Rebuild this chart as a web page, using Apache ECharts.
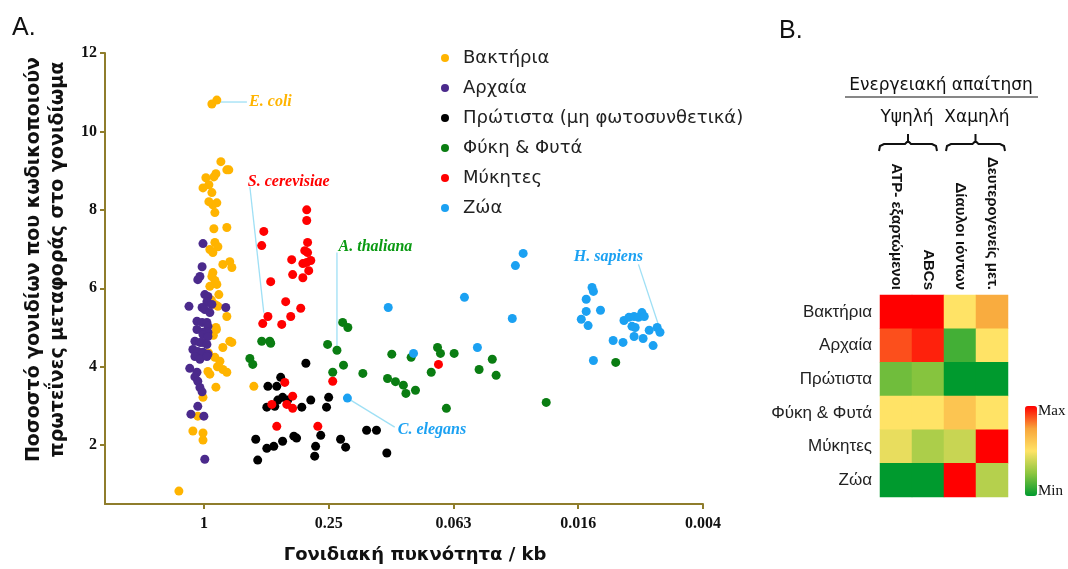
<!DOCTYPE html>
<html>
<head>
<meta charset="utf-8">
<script src="https://cdn.jsdelivr.net/npm/echarts@6/dist/echarts.min.js"></script>
<style>
  html, body { margin: 0; padding: 0; background: #fff; }
  #chart { width: 1068px; height: 569px; }
</style>
</head>
<body>
<div id="chart"></div>
<script>
// A. γονιδιακή πυκνότητα (γονίδια / kb) και % γονιδίων μεταφορέων
const groupNames = ['Βακτήρια', 'Αρχαία', 'Πρώτιστα (μη φωτοσυνθετικά)', 'Φύκη & Φυτά', 'Μύκητες', 'Ζώα'];
const groupColors = ['#ffb400', '#4b2a8c', '#000000', '#0a7d12', '#ff0000', '#1ba1f2'];

const bacteria = [
  [0.915, 10.70], [0.866, 10.80],
  [0.828, 9.23], [0.875, 8.92], [0.895, 8.84], [0.775, 9.02], [0.758, 9.02], [0.978, 8.82],
  [0.946, 8.64], [1.01, 8.56], [0.915, 8.44], [0.946, 8.21], [0.866, 8.18], [0.905, 8.13],
  [0.885, 7.93], [0.895, 7.52], [0.775, 7.55], [0.885, 7.17], [0.856, 7.06], [0.936, 6.99],
  [0.905, 6.91], [0.810, 6.61], [0.75, 6.68], [0.733, 6.53], [0.905, 6.40], [0.915, 6.30],
  [0.936, 6.05], [0.866, 6.10], [0.847, 5.84], [0.885, 5.59], [0.856, 5.54], [0.775, 5.28],
  [0.875, 5.00], [0.75, 4.65], [0.733, 4.62], [0.810, 4.49], [0.885, 4.24], [0.837, 4.14],
  [0.956, 3.88], [0.936, 3.81], [0.810, 3.93], [0.775, 3.86], [0.875, 3.48], [1.01, 3.22],
  [1.07, 2.74], [1.13, 2.36], [1.01, 2.31], [1.01, 2.13], [1.32, 0.83], [0.574, 3.50],
  [0.885, 6.2], [0.92, 5.7], [0.90, 4.8], [0.87, 4.95], [0.95, 4.35], [0.86, 4.0]
];
const archaea = [
  [1.01, 7.14], [1.02, 6.55], [1.045, 6.30], [1.07, 6.22], [0.99, 5.84], [0.956, 5.79],
  [0.967, 5.66], [0.915, 5.59], [1.18, 5.54], [1.02, 5.51], [0.784, 5.51], [0.99, 5.46],
  [0.936, 5.38], [1.08, 5.16], [1.02, 5.13], [0.967, 5.13], [0.956, 5.03], [1.08, 4.95],
  [1.01, 4.88], [0.956, 4.88], [1.01, 4.82], [0.956, 4.77], [1.105, 4.65], [1.045, 4.62],
  [1.02, 4.62], [0.967, 4.57], [1.13, 4.44], [1.07, 4.39], [1.01, 4.37], [0.956, 4.32],
  [1.105, 4.26], [1.045, 4.19], [0.967, 4.26], [1.17, 3.96], [1.08, 3.86], [1.105, 3.74],
  [1.07, 3.63], [1.045, 3.47], [1.02, 3.36], [1.07, 2.99], [1.155, 2.79], [1.0, 2.74],
  [0.99, 1.64]
];
const protists = [
  [0.322, 4.09], [0.426, 3.73], [0.491, 3.50], [0.445, 3.50], [0.417, 3.22], [0.44, 3.15],
  [0.394, 3.15], [0.497, 2.97], [0.455, 2.99], [0.337, 2.97], [0.305, 3.15], [0.256, 2.97],
  [0.25, 3.22], [0.562, 2.15], [0.497, 1.92], [0.46, 1.97], [0.417, 2.10], [0.368, 2.23],
  [0.357, 2.18], [0.289, 1.97], [0.273, 2.25], [0.219, 2.15], [0.207, 1.95], [0.55, 1.62],
  [0.292, 1.72], [0.164, 2.38], [0.147, 2.38], [0.131, 1.80]
];
const plants = [
  [0.214, 5.13], [0.202, 5.00], [0.526, 4.65], [0.481, 4.65], [0.476, 4.60], [0.253, 4.57],
  [0.228, 4.42], [0.600, 4.21], [0.581, 4.06], [0.212, 4.04], [0.239, 3.86], [0.171, 3.83],
  [0.124, 4.32], [0.100, 4.24], [0.130, 3.70], [0.119, 3.62], [0.109, 3.53], [0.106, 3.32],
  [0.0953, 3.40], [0.080, 3.86], [0.0746, 4.49], [0.0722, 4.34], [0.0620, 4.34], [0.0676, 2.94],
  [0.0470, 3.93], [0.0406, 4.19], [0.0389, 3.78], [0.0223, 3.09], [0.0103, 4.11]
];
const fungi = [
  [0.319, 8.0], [0.319, 7.73], [0.514, 7.45], [0.526, 7.09], [0.316, 7.17], [0.326, 6.96],
  [0.316, 6.91], [0.305, 6.71], [0.333, 6.63], [0.319, 6.66], [0.377, 6.73], [0.373, 6.35],
  [0.333, 6.27], [0.312, 6.45], [0.476, 6.17], [0.403, 5.66], [0.341, 5.49], [0.491, 5.28],
  [0.52, 5.10], [0.381, 5.28], [0.421, 5.08], [0.239, 3.63], [0.407, 3.60], [0.47, 3.04],
  [0.398, 3.04], [0.373, 3.25], [0.373, 2.94], [0.445, 2.48], [0.282, 2.48], [0.0738, 4.06]
];
const animals = [
  [0.203, 3.20], [0.129, 5.51], [0.0974, 4.34], [0.0553, 5.77], [0.0479, 4.49], [0.0325, 5.23],
  [0.0314, 6.58], [0.0288, 6.89], [0.0143, 5.72], [0.0134, 6.02], [0.0132, 5.92], [0.0143, 5.41],
  [0.0151, 5.21], [0.0140, 5.05], [0.0122, 5.44], [0.0132, 4.16], [0.0094, 5.18], [0.0089, 5.26],
  [0.0084, 5.28], [0.0080, 5.26], [0.0077, 5.38], [0.0075, 5.28], [0.0086, 5.03], [0.0083, 5.00],
  [0.0084, 4.77], [0.0106, 4.67], [0.0095, 4.62], [0.0076, 4.72], [0.0071, 4.93], [0.0068, 4.54],
  [0.0065, 5.00], [0.0063, 4.88]
];
const groupData = [bacteria, archaea, protists, plants, fungi, animals];

const xTickValues = [1, 0.25, 0.0625, 0.015625, 0.00390625];
const xTickLabels = ['1', '0.25', '0.063', '0.016', '0.004'];
const yTickValues = [2, 4, 6, 8, 10, 12];

// B. σχετική αφθονία μεταφορέων (0 = Min, 1 = Max)
const heatRows = ['Βακτήρια', 'Αρχαία', 'Πρώτιστα', 'Φύκη & Φυτά', 'Μύκητες', 'Ζώα'];
const heatCols = ['ATP- εξαρτώμενοι', 'ABCs', 'Δίαυλοι ιόντων', 'Δευτερογενείς μετ.'];
const heatValues = [
  [1.0, 1.0, 0.5, 0.72],
  [0.88, 0.95, 0.12, 0.5],
  [0.2, 0.24, 0.0, 0.0],
  [0.5, 0.5, 0.62, 0.5],
  [0.45, 0.32, 0.38, 1.0],
  [0.0, 0.0, 1.0, 0.34]
];

// σημειώσεις πάνω στο γράφημα (συντεταγμένες δεδομένων)
const notes = [
  { text: 'E. coli', color: '#ffb400', line: [[0.84, 10.75], [0.62, 10.75]], at: [0.605, 10.75], align: 'left' },
  { text: 'S. cerevisiae', color: '#ff0000', line: [[0.60, 8.59], [0.514, 5.38]], at: [0.614, 8.72], align: 'left' },
  { text: 'A. thaliana', color: '#0a9a12', line: [[0.228, 6.91], [0.228, 4.44]], at: [0.224, 7.06], align: 'left' },
  { text: 'C. elegans', color: '#1ba1f2', line: [[0.203, 3.20], [0.120, 2.46]], at: [0.116, 2.38], align: 'left' },
  { text: 'H. sapiens', color: '#1ba1f2', line: [[0.0080, 6.61], [0.0063, 4.95]], at: [0.0076, 6.81], align: 'right' }
];

const AXIS_COLOR = '#8f7d2c';
const SERIF = '"Liberation Serif", "DejaVu Serif", serif';
const SANS = '"DejaVu Sans", sans-serif';

const chart = echarts.init(document.getElementById('chart'));

const scatterSeries = groupNames.map((name, i) => ({
  name: name,
  type: 'scatter',
  xAxisIndex: 0,
  yAxisIndex: 0,
  symbolSize: 9,
  itemStyle: { color: groupColors[i], opacity: 1 },
  data: groupData[i]
}));

const heatData = [];
heatValues.forEach((row, r) => row.forEach((v, c) => heatData.push([c, r, v])));

const option = {
  animation: false,
  backgroundColor: '#fff',
  grid: [
    { left: 105, right: 365, top: 53, bottom: 64 },
    { left: 880, right: 60, top: 295, bottom: 72 }
  ],
  legend: {
    data: groupNames,
    orient: 'vertical',
    left: 436,
    top: 43,
    icon: 'circle',
    itemWidth: 26,
    itemHeight: 8,
    itemGap: 10,
    selectedMode: false,
    textStyle: { fontSize: 18, lineHeight: 20, color: '#222', fontFamily: SANS }
  },
  xAxis: [
    {
      type: 'log',
      logBase: 4,
      gridIndex: 0,
      inverse: true,
      min: 0.00390625,
      max: 3,
      name: 'Γονιδιακή πυκνότητα / kb',
      nameLocation: 'middle',
      nameGap: 42,
      nameTextStyle: { fontSize: 18, fontWeight: 'bold', fontFamily: SANS, color: '#111', padding: [0, 0, 0, 22] },
      axisLine: { lineStyle: { color: AXIS_COLOR, width: 2 } },
      axisTick: { customValues: xTickValues, length: 5, lineStyle: { color: AXIS_COLOR, width: 2 } },
      axisLabel: {
        customValues: xTickValues,
        margin: 12,
        fontSize: 16,
        fontWeight: 'bold',
        fontFamily: SERIF,
        color: '#111',
        formatter: v => {
          const i = xTickValues.findIndex(t => Math.abs(t - v) / t < 0.01);
          return i >= 0 ? xTickLabels[i] : '';
        }
      },
      splitLine: { show: false }
    },
    {
      type: 'category',
      gridIndex: 1,
      position: 'top',
      data: heatCols,
      axisLine: { show: false },
      axisTick: { show: false },
      axisLabel: { rotate: 90, margin: 5, fontSize: 15, fontWeight: 'bold', fontFamily: '"Liberation Sans", sans-serif', color: '#111' },
      splitLine: { show: false }
    }
  ],
  yAxis: [
    {
      type: 'value',
      gridIndex: 0,
      min: 0.5,
      max: 12,
      name: 'Ποσοστό γονιδίων που κωδικοποιούν\nπρωτεΐνες μεταφοράς στο γονιδίωμα',
      nameLocation: 'middle',
      nameGap: 34,
      nameTextStyle: { fontSize: 19, fontWeight: 'bold', fontFamily: SANS, color: '#111', lineHeight: 24, padding: [0, 0, 0, 38] },
      axisLine: { show: true, lineStyle: { color: AXIS_COLOR, width: 2 } },
      axisTick: { show: true, customValues: yTickValues, length: 5, lineStyle: { color: AXIS_COLOR, width: 2 } },
      axisLabel: { customValues: yTickValues, margin: 8, fontSize: 16, fontWeight: 'bold', fontFamily: SERIF, color: '#111' },
      splitLine: { show: false }
    },
    {
      type: 'category',
      gridIndex: 1,
      inverse: true,
      data: heatRows,
      axisLine: { show: false },
      axisTick: { show: false },
      axisLabel: { margin: 8, fontSize: 17, fontFamily: '"Liberation Sans", sans-serif', color: '#222' },
      splitLine: { show: false }
    }
  ],
  visualMap: {
    type: 'continuous',
    seriesIndex: 6,
    min: 0,
    max: 1,
    left: 1025,
    top: 406,
    padding: 0,
    itemWidth: 12,
    itemHeight: 90,
    calculable: false,
    inRange: { color: ['#009a2e', '#8cc63f', '#ffe366', '#f8a43a', '#ff0000'] }
  },
  series: scatterSeries.concat([{
    type: 'heatmap',
    xAxisIndex: 1,
    yAxisIndex: 1,
    data: heatData,
    itemStyle: { borderWidth: 0 }
  }])
};

chart.setOption(option);

// άγκιστρο με κεντρική προεξοχή προς τα πάνω
function brace(x1, x2, y) {
  const xm = (x1 + x2) / 2;
  return {
    type: 'polyline',
    shape: { points: [[x1, y + 7], [x1 + 1, y + 2], [x1 + 5, y], [xm - 3, y], [xm, y - 3], [xm, y - 10], [xm, y - 3], [xm + 3, y], [x2 - 5, y], [x2 - 1, y + 2], [x2, y + 7]] },
    style: { stroke: '#111', lineWidth: 2, fill: null },
    silent: true
  };
}

// σημειώσεις, κεφαλίδες
const toPx = p => chart.convertToPixel({ gridIndex: 0 }, p);
const graphics = [];
notes.forEach(n => {
  graphics.push({
    type: 'polyline',
    shape: { points: n.line.map(toPx) },
    style: { stroke: '#9fe0f5', lineWidth: 1.3, fill: null },
    silent: true
  });
  const p = toPx(n.at);
  graphics.push({
    type: 'text',
    x: p[0],
    y: p[1],
    style: { text: n.text, fill: n.color, font: 'italic bold 16px ' + SERIF, textAlign: n.align, textVerticalAlign: 'middle' },
    silent: true
  });
});
graphics.push(
  { type: 'text', x: 12, y: 28, style: { text: 'A.', font: '25px "Liberation Sans", sans-serif', fill: '#111', textVerticalAlign: 'middle' } },
  { type: 'text', x: 779, y: 31, style: { text: 'B.', font: '25px "Liberation Sans", sans-serif', fill: '#111', textVerticalAlign: 'middle' } },
  { type: 'text', x: 941, y: 86, style: { text: 'Ενεργειακή απαίτηση', font: '17px ' + SANS, fill: '#111', textAlign: 'center', textVerticalAlign: 'middle' } },
  { type: 'line', shape: { x1: 845, y1: 97, x2: 1038, y2: 97 }, style: { stroke: '#111', lineWidth: 1.2 } },
  { type: 'text', x: 907, y: 118, style: { text: 'Υψηλή', font: '17px ' + SANS, fill: '#111', textAlign: 'center', textVerticalAlign: 'middle' } },
  { type: 'text', x: 977, y: 118, style: { text: 'Χαμηλή', font: '17px ' + SANS, fill: '#111', textAlign: 'center', textVerticalAlign: 'middle' } },
  brace(879, 937, 144),
  brace(946, 1005, 144),
  { type: 'text', x: 1038, y: 411, style: { text: 'Max', font: '15px ' + SERIF, fill: '#111', textVerticalAlign: 'middle' } },
  { type: 'text', x: 1038, y: 491, style: { text: 'Min', font: '15px ' + SERIF, fill: '#111', textVerticalAlign: 'middle' } }
);
chart.setOption({ graphic: graphics });
</script>
</body>
</html>
